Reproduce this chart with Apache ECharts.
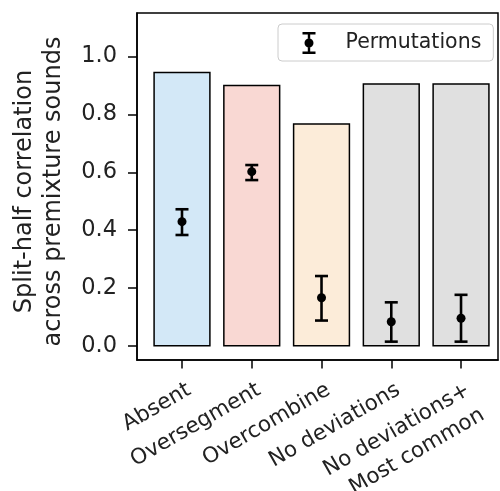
<!DOCTYPE html>
<html><head><meta charset="utf-8">
<script src="https://cdn.jsdelivr.net/npm/echarts@6/dist/echarts.min.js"></script>
<style>html,body{margin:0;padding:0;background:#fff}#c{width:500px;height:491px}</style>
</head><body><div id="c"></div>
<script>
const categories = ['Absent', 'Oversegment', 'Overcombine', 'No deviations', 'No deviations+\nMost common'];
const barValues = [0.945, 0.900, 0.767, 0.905, 0.905];
const barColors = ['#d3e8f7', '#f9d8d3', '#fcecd9', '#e0e0e0', '#e0e0e0'];
const permMean = [0.429, 0.602, 0.166, 0.083, 0.095];
const permLow = [0.383, 0.573, 0.087, 0.014, 0.014];
const permHigh = [0.472, 0.625, 0.241, 0.150, 0.176];
const yTicks = [0, 0.2, 0.4, 0.6, 0.8, 1.0];
const xTicks = categories.map((c, i) => i);

const FONT = 'DejaVu Sans';
const TXT = '#222';

const chart = echarts.init(document.getElementById('c'), null, {renderer: 'canvas'});

const barData = barValues.map((v, i) => [i, v]);
const errData = permMean.map((m, i) => [i, m, permLow[i], permHigh[i]]);

const errIcon = 'path://M0 0h13v2.4H0z M5.3 2.4h2.4v4.1H5.3z M5.3 15.5h2.4v4.1H5.3z M0 19.6h13v2.4H0z M6.5 6.5a4.5 4.5 0 1 1 0 9a4.5 4.5 0 1 1 0-9z';

chart.setOption({
  animation: false,
  backgroundColor: '#fff',
  grid: {left: 137, right: 2, top: 13, bottom: 131, containLabel: false, outerBoundsMode: 'none',
         show: true, borderColor: '#000', borderWidth: 1.5, backgroundColor: 'transparent'},
  legend: {
    show: true,
    data: ['Permutations'],
    left: 278, top: 24,
    padding: [8, 12, 7, 24.5],
    itemWidth: 13, itemHeight: 22,
    symbolKeepAspect: false,
    icon: errIcon,
    borderColor: '#cccccc', borderWidth: 1, borderRadius: 4,
    backgroundColor: 'rgba(255,255,255,0.8)',
    textStyle: {fontFamily: FONT, fontSize: 20.5, color: TXT, padding: [0, 0, 0, 25]}
  },
  xAxis: {
    type: 'value',
    min: -0.645, max: 4.53,
    splitLine: {show: false},
    axisLine: {show: true, onZero: false, lineStyle: {color: '#000', width: 1.5}},
    axisTick: {show: true, customValues: xTicks, length: 8.5, lineStyle: {color: '#000', width: 1.5}},
    axisLabel: {
      show: true, customValues: xTicks, rotate: 30, margin: 16,
      hideOverlap: false, showMinLabel: true, showMaxLabel: true,
      align: 'right', verticalAlign: 'top',
      formatter: v => categories[Math.round(v)],
      fontFamily: FONT, fontSize: 21.5, color: TXT, lineHeight: 29
    }
  },
  yAxis: {
    type: 'value',
    min: -0.0495, max: 1.151,
    splitLine: {show: false},
    axisLine: {show: true, onZero: false, lineStyle: {color: '#000', width: 1.5}},
    axisTick: {show: true, customValues: yTicks, length: 9, lineStyle: {color: '#000', width: 1.5}},
    axisLabel: {
      show: true, customValues: yTicks, margin: 20,
      formatter: v => v.toFixed(1),
      fontFamily: FONT, fontSize: 22.5, color: TXT
    },
    name: 'Split-half correlation\nacross premixture sounds',
    nameLocation: 'middle', nameRotate: 90, nameGap: 68.5,
    nameTextStyle: {fontFamily: FONT, fontSize: 24, color: TXT, lineHeight: 29, padding: [0, 10, 0, 0]}
  },
  series: [
    {
      type: 'custom', name: 'bars',
      data: barData,
      encode: {x: 0, y: 1},
      renderItem: function (params, api) {
        const x = api.value(0), y = api.value(1);
        const p0 = api.coord([x - 0.4, y]);
        const p1 = api.coord([x + 0.4, 0]);
        return {
          type: 'rect',
          shape: {x: p0[0], y: p0[1], width: p1[0] - p0[0], height: p1[1] - p0[1]},
          style: {fill: barColors[params.dataIndex], stroke: '#000', lineWidth: 1.5}
        };
      },
      z: 2
    },
    {
      type: 'custom', name: 'Permutations',
      data: errData,
      itemStyle: {color: '#000'},
      encode: {x: 0, y: [1, 2, 3]},
      renderItem: function (params, api) {
        const x = api.value(0);
        const pm = api.coord([x, api.value(1)]);
        const pl = api.coord([x, api.value(2)]);
        const ph = api.coord([x, api.value(3)]);
        const cap = 6.5;
        const st = {stroke: '#000', lineWidth: 2.6};
        return {
          type: 'group',
          children: [
            {type: 'line', shape: {x1: pl[0], y1: pl[1], x2: ph[0], y2: ph[1]}, style: st},
            {type: 'line', shape: {x1: pl[0] - cap, y1: pl[1], x2: pl[0] + cap, y2: pl[1]}, style: st},
            {type: 'line', shape: {x1: ph[0] - cap, y1: ph[1], x2: ph[0] + cap, y2: ph[1]}, style: st},
            {type: 'circle', shape: {cx: pm[0], cy: pm[1], r: 4.5}, style: {fill: '#000'}}
          ]
        };
      },
      z: 3
    }
  ]
});
</script>
</body></html>
